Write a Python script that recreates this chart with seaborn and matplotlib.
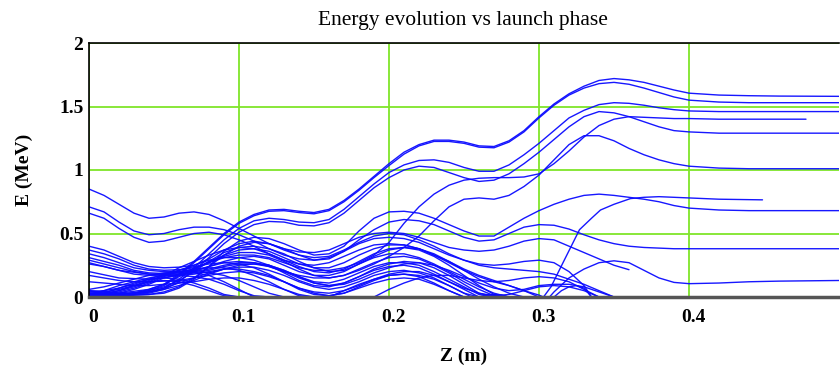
import numpy as np
import pandas as pd
import matplotlib
matplotlib.use("Agg")
import matplotlib.pyplot as plt
import seaborn as sns
from matplotlib.transforms import ScaledTranslation

# ---------------- data ----------------
X_TICKS = [0.0, 0.1, 0.2, 0.3, 0.4]
X_LABELS = ["0", "0.1", "0.2", "0.3", "0.4"]
Y_TICKS = [0.0, 0.5, 1.0, 1.5, 2.0]
Y_LABELS = ["0", "0.5", "1", "1.5", "2"]

Z_EARLY = [0.00, 0.01, 0.02, 0.03, 0.04, 0.05, 0.06, 0.07, 0.08, 0.09,
           0.10, 0.11, 0.12, 0.13, 0.14, 0.15, 0.16, 0.17, 0.18, 0.19,
           0.20, 0.21, 0.22, 0.23, 0.24, 0.25, 0.26, 0.27, 0.28, 0.29,
           0.30]

Z_H = [0.00, 0.02, 0.04,
       0.05, 0.06, 0.07, 0.08, 0.09,
       0.10, 0.11, 0.12, 0.13, 0.14, 0.15, 0.16, 0.17, 0.18, 0.19,
       0.20, 0.21, 0.22, 0.23, 0.24, 0.25, 0.26, 0.27, 0.28, 0.29,
       0.30, 0.31, 0.32, 0.33, 0.34, 0.35, 0.36, 0.37, 0.38, 0.39,
       0.40, 0.42, 0.44, 0.46, 0.50]
Z_H4 = Z_H[:-1] + [0.478]

H1 = [0.05, 0.03, 0.06,
      0.10, 0.18, 0.28, 0.39, 0.50,
      0.59, 0.65, 0.685, 0.69, 0.675, 0.665, 0.69, 0.76, 0.85, 0.95,
      1.05, 1.14, 1.20, 1.235, 1.235, 1.22, 1.19, 1.185, 1.23, 1.31,
      1.42, 1.52, 1.60, 1.66, 1.705, 1.72, 1.71, 1.69, 1.66, 1.63,
      1.605, 1.59, 1.585, 1.582, 1.58]
H2 = [0.04, 0.02, 0.05,
      0.09, 0.17, 0.27, 0.38, 0.49,
      0.58, 0.64, 0.675, 0.68, 0.665, 0.655, 0.68, 0.75, 0.84, 0.94,
      1.035, 1.125, 1.19, 1.225, 1.225, 1.21, 1.18, 1.175, 1.22, 1.30,
      1.41, 1.51, 1.59, 1.645, 1.68, 1.69, 1.675, 1.645, 1.61, 1.575,
      1.55, 1.535, 1.53, 1.53, 1.53]
H3 = [0.03, 0.02, 0.04,
      0.07, 0.14, 0.23, 0.34, 0.45,
      0.54, 0.60, 0.62, 0.61, 0.59, 0.585, 0.61, 0.69, 0.79, 0.89,
      0.98, 1.04, 1.075, 1.08, 1.06, 1.02, 0.99, 0.99, 1.04, 1.12,
      1.21, 1.31, 1.41, 1.47, 1.515, 1.53, 1.525, 1.51, 1.49, 1.475,
      1.465, 1.46, 1.46, 1.46, 1.46]
H4 = [0.27, 0.21, 0.18,
      0.18, 0.19, 0.22, 0.27, 0.31,
      0.33, 0.33, 0.31, 0.27, 0.23, 0.21, 0.21, 0.23, 0.27, 0.33,
      0.43, 0.58, 0.71, 0.81, 0.88, 0.92, 0.935, 0.94, 0.94, 0.945,
      0.97, 1.05, 1.15, 1.26, 1.35, 1.40, 1.42, 1.415, 1.41, 1.405,
      1.405, 1.40, 1.40, 1.40, 1.40]
H5 = [0.02, 0.01, 0.03,
      0.06, 0.12, 0.21, 0.31, 0.42,
      0.51, 0.57, 0.595, 0.59, 0.565, 0.56, 0.585, 0.66, 0.76, 0.86,
      0.94, 1.00, 1.03, 1.02, 0.98, 0.94, 0.91, 0.92, 0.97, 1.05,
      1.14, 1.24, 1.34, 1.42, 1.46, 1.45, 1.42, 1.38, 1.34, 1.31,
      1.30, 1.29, 1.29, 1.29, 1.29]
H6 = [0.20, 0.15, 0.14,
      0.15, 0.17, 0.20, 0.24, 0.27,
      0.28, 0.27, 0.24, 0.20, 0.17, 0.15, 0.15, 0.17, 0.21, 0.26,
      0.32, 0.39, 0.48, 0.60, 0.71, 0.77, 0.78, 0.77, 0.80, 0.87,
      0.96, 1.08, 1.20, 1.27, 1.27, 1.23, 1.17, 1.12, 1.08, 1.05,
      1.03, 1.015, 1.01, 1.01, 1.01]
M2 = [0.02, 0.01, 0.02,
      0.03, 0.07, 0.14, 0.24, 0.36,
      0.44, 0.47, 0.46, 0.42, 0.37, 0.33, 0.34, 0.40, 0.52, 0.62,
      0.67, 0.675, 0.66, 0.62, 0.57, 0.52, 0.48, 0.48, 0.55, 0.62,
      0.68, 0.73, 0.77, 0.80, 0.81, 0.80, 0.785, 0.77, 0.75, 0.72,
      0.70, 0.685, 0.68, 0.68, 0.68]
M3 = [0.03, 0.01, 0.02,
      0.04, 0.08, 0.15, 0.24, 0.33,
      0.40, 0.43, 0.42, 0.38, 0.33, 0.29, 0.30, 0.36, 0.45, 0.53,
      0.59, 0.61, 0.60, 0.57, 0.52, 0.47, 0.44, 0.45, 0.50, 0.55,
      0.57, 0.565, 0.535, 0.49, 0.45, 0.42, 0.40, 0.39, 0.385, 0.38,
      0.38, 0.38, 0.38, 0.38, 0.38]

Z_M4 = [0.307, 0.31, 0.32, 0.33, 0.34, 0.35, 0.36, 0.37, 0.38, 0.39, 0.40, 0.42, 0.44, 0.46, 0.50]
M4 = [0.0, 0.04, 0.15, 0.22, 0.27, 0.285, 0.27, 0.21, 0.15, 0.115, 0.105, 0.11, 0.12, 0.125, 0.13]

# curves starting high at z = 0 (on Z_EARLY) and their tails
S1 = [0.85, 0.80, 0.73, 0.66, 0.62, 0.63, 0.66, 0.67, 0.65, 0.60,
      0.54, 0.48, 0.42, 0.38, 0.355, 0.35, 0.37, 0.42, 0.47, 0.50,
      0.51, 0.50, 0.47, 0.43, 0.39, 0.37, 0.36, 0.37, 0.40, 0.44,
      0.46]
Z_S1_TAIL = [0.31, 0.32, 0.33, 0.34, 0.35, 0.36]
S1_TAIL = [0.45, 0.40, 0.35, 0.30, 0.25, 0.215]
S2 = [0.71, 0.67, 0.59, 0.52, 0.49, 0.50, 0.53, 0.55, 0.55, 0.53,
      0.49, 0.44, 0.38, 0.33, 0.30, 0.29, 0.31, 0.36, 0.42, 0.46,
      0.47, 0.46, 0.43, 0.38, 0.33, 0.29, 0.26, 0.25, 0.26, 0.28,
      0.29]
Z_S2_TAIL = [0.31, 0.32, 0.33, 0.335]
S2_TAIL = [0.27, 0.20, 0.09, 0.0]
S3 = [0.66, 0.62, 0.54, 0.47, 0.43, 0.44, 0.47, 0.50, 0.51, 0.49,
      0.45, 0.40, 0.34, 0.29, 0.26, 0.25, 0.27, 0.32, 0.37, 0.41,
      0.42, 0.41, 0.38, 0.33, 0.28, 0.22, 0.17, 0.13, 0.09, 0.05,
      0.015]
Z_S3_TAIL = [0.303, 0.308, 0.316, 0.327, 0.335, 0.341, 0.35, 0.361, 0.37, 0.38, 0.40, 0.42, 0.449]
S3_TAIL = [0.0, 0.08, 0.27, 0.53, 0.62, 0.685, 0.73, 0.775, 0.785, 0.79, 0.78, 0.77, 0.765]

# lower band (start 0.1-0.4 MeV)
B1 = [0.40, 0.37, 0.32, 0.27, 0.24, 0.23, 0.235, 0.25, 0.30, 0.37,
      0.42, 0.44, 0.42, 0.37, 0.33, 0.31, 0.32, 0.37, 0.43, 0.48,
      0.50, 0.49, 0.45, 0.40, 0.34, 0.29, 0.25, 0.23, 0.22, 0.21,
      0.20]
Z_B1_TAIL = [0.31, 0.32, 0.33, 0.34, 0.35]
B1_TAIL = [0.18, 0.14, 0.10, 0.05, 0.0]
B2 = [0.37, 0.34, 0.30, 0.25, 0.22, 0.21, 0.215, 0.23, 0.27, 0.33,
      0.37, 0.38, 0.36, 0.31, 0.26, 0.23, 0.23, 0.27, 0.33, 0.38,
      0.41, 0.41, 0.38, 0.33, 0.27, 0.21, 0.16, 0.12, 0.09, 0.05,
      0.0]
B3 = [0.34, 0.31, 0.27, 0.23, 0.21, 0.20, 0.20, 0.21, 0.24, 0.28,
      0.31, 0.32, 0.30, 0.25, 0.20, 0.17, 0.17, 0.20, 0.26, 0.31,
      0.34, 0.34, 0.31, 0.26, 0.20, 0.14, 0.08, 0.03, 0.0]
B4 = [0.31, 0.28, 0.25, 0.21, 0.19, 0.185, 0.19, 0.20, 0.22, 0.25,
      0.27, 0.27, 0.25, 0.21, 0.16, 0.12, 0.11, 0.14, 0.19, 0.24,
      0.27, 0.27, 0.25, 0.20, 0.14, 0.08, 0.02, 0.0]
B5 = [0.26, 0.24, 0.21, 0.18, 0.17, 0.165, 0.17, 0.18, 0.20, 0.22,
      0.235, 0.235, 0.21, 0.17, 0.12, 0.08, 0.06, 0.08, 0.12, 0.17,
      0.20, 0.21, 0.19, 0.15, 0.09, 0.03, 0.0]
B6 = [0.17, 0.15, 0.13, 0.12, 0.12, 0.125, 0.13, 0.15, 0.17, 0.19,
      0.20, 0.19, 0.16, 0.12, 0.07, 0.03, 0.01, 0.03, 0.07, 0.11,
      0.14, 0.15, 0.14, 0.10, 0.05, 0.0]
B7 = [0.12, 0.11, 0.10, 0.09, 0.09, 0.10, 0.11, 0.12, 0.14, 0.15,
      0.15, 0.13, 0.10, 0.06, 0.02, 0.0]
B8 = [0.29, 0.26, 0.23, 0.20, 0.18, 0.175, 0.18, 0.19, 0.21, 0.24,
      0.26, 0.26, 0.24, 0.20, 0.15, 0.11, 0.09, 0.11, 0.16, 0.22,
      0.26, 0.28, 0.27, 0.23, 0.17, 0.10, 0.03, 0.0]

# fan of curves starting near zero energy
F1 = [0.03, 0.02, 0.02, 0.03, 0.05, 0.08, 0.13, 0.20, 0.28, 0.35,
      0.39, 0.40, 0.38, 0.34, 0.28, 0.23, 0.20, 0.21, 0.26, 0.32,
      0.37, 0.39, 0.38, 0.34, 0.28, 0.21, 0.14, 0.08, 0.03, 0.0]
F2 = [0.02, 0.01, 0.02, 0.03, 0.06, 0.10, 0.16, 0.22, 0.28, 0.32,
      0.35, 0.35, 0.33, 0.28, 0.22, 0.17, 0.15, 0.17, 0.22, 0.27,
      0.31, 0.32, 0.30, 0.25, 0.19, 0.12, 0.06, 0.01, 0.0]
F3 = [0.01, 0.02, 0.04, 0.07, 0.11, 0.16, 0.21, 0.25, 0.29, 0.31,
      0.31, 0.29, 0.25, 0.19, 0.13, 0.09, 0.08, 0.11, 0.16, 0.21,
      0.24, 0.25, 0.23, 0.18, 0.12, 0.06, 0.0]
F4 = [0.04, 0.05, 0.07, 0.10, 0.14, 0.18, 0.21, 0.24, 0.26, 0.27,
      0.26, 0.23, 0.18, 0.12, 0.06, 0.02, 0.01, 0.03, 0.08, 0.13,
      0.17, 0.18, 0.16, 0.11, 0.05, 0.0]
F5 = [0.0, 0.02, 0.05, 0.09, 0.13, 0.17, 0.20, 0.22, 0.23, 0.23,
      0.21, 0.17, 0.12, 0.06, 0.01, 0.0]
F6 = [0.06, 0.08, 0.11, 0.14, 0.17, 0.19, 0.20, 0.20, 0.19, 0.17,
      0.13, 0.08, 0.03, 0.0]
F7 = [0.02, 0.05, 0.09, 0.12, 0.15, 0.17, 0.17, 0.16, 0.14, 0.10,
      0.05, 0.01, 0.0]
F8 = [0.0, 0.03, 0.07, 0.11, 0.14, 0.15, 0.14, 0.11, 0.07, 0.02,
      0.0]
F9 = [0.05, 0.04, 0.03, 0.03, 0.04, 0.06, 0.09, 0.13, 0.18, 0.22,
      0.25, 0.26, 0.25, 0.21, 0.16, 0.11, 0.09, 0.10, 0.14, 0.19,
      0.23, 0.26, 0.27, 0.25, 0.21, 0.16, 0.11, 0.07, 0.05, 0.06,
      0.09]
Z_F9_TAIL = [0.31, 0.32, 0.33, 0.34, 0.35]
F9_TAIL = [0.10, 0.10, 0.08, 0.04, 0.0]
F10 = [0.01, 0.0, 0.01, 0.02, 0.04, 0.07, 0.11, 0.15, 0.19, 0.22,
       0.22, 0.20, 0.17, 0.12, 0.07, 0.04, 0.03, 0.05, 0.09, 0.14,
       0.18, 0.20, 0.20, 0.17, 0.12, 0.07, 0.03, 0.01, 0.02, 0.05,
       0.08]
Z_F10_TAIL = [0.31, 0.32, 0.33, 0.34]
F10_TAIL = [0.09, 0.08, 0.05, 0.0]
F11 = [0.0, 0.01, 0.03, 0.06, 0.10, 0.15, 0.18, 0.19, 0.17, 0.12,
       0.06, 0.0]
F12 = [0.02, 0.04, 0.06, 0.09, 0.12, 0.13, 0.12, 0.09, 0.05, 0.01,
       0.0]
F13 = [0.01, 0.03, 0.05, 0.08, 0.12, 0.17, 0.23, 0.28, 0.33, 0.37,
       0.39, 0.38, 0.34, 0.29, 0.24, 0.20, 0.19, 0.22, 0.28, 0.34,
       0.38, 0.39, 0.37, 0.32, 0.25, 0.17, 0.09, 0.02, 0.0]

# late arches that start from zero energy
Z_A2 = [0.16, 0.17, 0.18, 0.19, 0.20, 0.21, 0.22, 0.23, 0.24, 0.25, 0.255]
A2 = [0.0, 0.05, 0.10, 0.14, 0.17, 0.18, 0.17, 0.14, 0.09, 0.03, 0.0]
Z_A3 = [0.19, 0.20, 0.21, 0.22, 0.23, 0.24, 0.25, 0.26, 0.27, 0.28, 0.29, 0.30, 0.31, 0.32, 0.33, 0.34]
A3 = [0.0, 0.06, 0.11, 0.15, 0.17, 0.17, 0.15, 0.13, 0.12, 0.13, 0.15, 0.16, 0.15, 0.12, 0.06, 0.0]
Z_A5 = [0.31, 0.315, 0.32, 0.325, 0.33, 0.335]
A5 = [0.0, 0.05, 0.08, 0.09, 0.07, 0.0]
Z_A6 = [0.26, 0.265, 0.27, 0.275, 0.28]
A6 = [0.0, 0.015, 0.02, 0.015, 0.0]

# ---------------- assemble long table ----------------
def early(vals, tz=None, tv=None):
    z = Z_EARLY[:len(vals)]
    v = list(vals)
    if tz is not None:
        z = z + tz
        v = v + tv
    return z, v

curves = {
    "H1": (Z_H, H1), "H2": (Z_H, H2), "H3": (Z_H, H3), "H4": (Z_H4, H4),
    "H5": (Z_H, H5), "H6": (Z_H, H6), "M2": (Z_H, M2), "M3": (Z_H, M3),
    "M4": (Z_M4, M4),
    "S1": early(S1, Z_S1_TAIL, S1_TAIL), "S2": early(S2, Z_S2_TAIL, S2_TAIL),
    "S3": early(S3, Z_S3_TAIL, S3_TAIL),
    "B1": early(B1, Z_B1_TAIL, B1_TAIL), "B2": early(B2), "B3": early(B3),
    "B4": early(B4), "B5": early(B5), "B6": early(B6), "B7": early(B7),
    "B8": early(B8),
    "F1": early(F1), "F2": early(F2), "F3": early(F3), "F4": early(F4),
    "F5": early(F5), "F6": early(F6), "F7": early(F7), "F8": early(F8),
    "F9": early(F9, Z_F9_TAIL, F9_TAIL), "F10": early(F10, Z_F10_TAIL, F10_TAIL),
    "F11": early(F11), "F12": early(F12), "F13": early(F13),
    "A2": (Z_A2, A2), "A3": (Z_A3, A3), "A5": (Z_A5, A5), "A6": (Z_A6, A6),
}
rows = []
for name, (zs, es) in curves.items():
    for z, e in zip(zs, es):
        rows.append((name, z, e))
df = pd.DataFrame(rows, columns=["curve", "z", "E"])

# ---------------- plot ----------------
sns.set_theme(style="white")
plt.rcParams["font.family"] = ["Liberation Serif", "DejaVu Serif"]
plt.rcParams["text.color"] = "black"
plt.rcParams["axes.labelcolor"] = "black"
plt.rcParams["xtick.color"] = "black"
plt.rcParams["ytick.color"] = "black"

fig = plt.figure(figsize=(8.4, 3.68), dpi=100)
ax = fig.add_axes([89 / 840, 1 - 297 / 368, (839 - 89) / 840, (297 - 43) / 368])

sns.lineplot(data=df, x="z", y="E", units="curve", estimator=None, sort=False,
             color="#0a0aff", linewidth=1.0, alpha=0.95, legend=False, ax=ax)

ax.set_xlim(0, 0.5)
ax.set_ylim(0, 2)
ax.set_xticks(X_TICKS)
ax.set_xticklabels(X_LABELS, fontsize=14, fontweight="bold", color="black")
ax.set_yticks(Y_TICKS)
ax.set_yticklabels(Y_LABELS, fontsize=14, fontweight="bold", color="black")
ax.tick_params(axis="x", length=0, pad=9)
ax.tick_params(axis="y", length=0, pad=4)
shift = ScaledTranslation(0.04, 0, fig.dpi_scale_trans)
for lab in ax.get_xticklabels():
    lab.set_transform(lab.get_transform() + shift)

ax.grid(True, color="#7fe52a", linewidth=1.3)
ax.set_axisbelow(True)

for side in ["top", "left"]:
    ax.spines[side].set_color("black")
    ax.spines[side].set_linewidth(1.2)
ax.spines["right"].set_visible(False)
ax.spines["bottom"].set_color("#555555")
ax.spines["bottom"].set_linewidth(2.5)

ax.set_xlabel("Z (m)", fontsize=14, fontweight="bold", color="black")
ax.set_ylabel("E (MeV)", fontsize=14, fontweight="bold", color="black")
ax.xaxis.set_label_coords(0.499, -0.232)
ax.yaxis.set_label_coords(-0.086, 0.5)
ax.xaxis.label.set_va("center")
ax.yaxis.label.set_va("center")
ax.text(0.499, 1.09, "Energy evolution vs launch phase", transform=ax.transAxes,
        ha="center", va="center", fontsize=15.5, color="black")

fig.savefig("out.png", dpi=100)
